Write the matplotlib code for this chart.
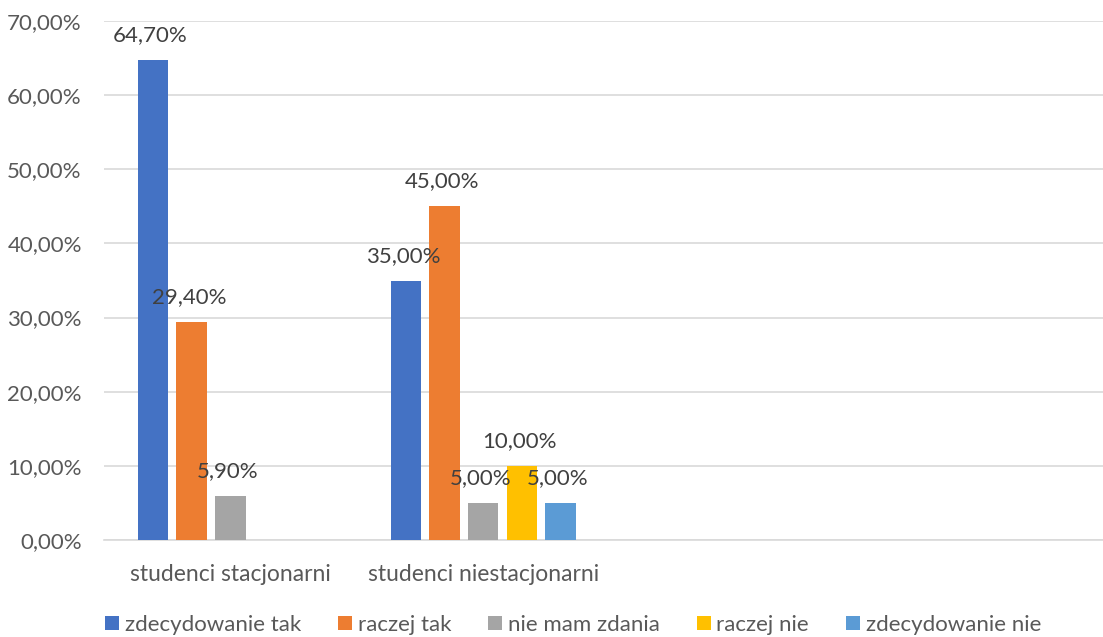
import matplotlib
matplotlib.use("Agg")
from matplotlib import pyplot as plt
import numpy as np

plt.rcParams['font.family'] = ['Lato', 'DejaVu Sans']

categories = ["studenci stacjonarni", "studenci niestacjonarni", "", ""]
series = ["zdecydowanie tak", "raczej tak", "nie mam zdania", "raczej nie", "zdecydowanie nie"]
values = [
    [64.7, 35.0, 0, 0],
    [29.4, 45.0, 0, 0],
    [5.9, 5.0, 0, 0],
    [0, 10.0, 0, 0],
    [0, 5.0, 0, 0],
]
colors = ["#4472C4", "#ED7D31", "#A5A5A5", "#FFC000", "#5B9BD5"]
yticks = [0, 10, 20, 30, 40, 50, 60, 70]

txt = "#595959"
fig = plt.figure(figsize=(11.03, 6.37), dpi=100)
ax = fig.add_axes([0.0943, 0.1523, 0.9166, 0.8147])

x = np.arange(len(categories))
step = 0.153
width = 0.121
for i, (name, vals) in enumerate(zip(series, values)):
    pos = x + (i - 2) * step
    bars = ax.bar(pos, vals, width, color=colors[i], label=name, zorder=3)
    for b, v in zip(bars, vals):
        if v > 0:
            ax.text(b.get_x() + b.get_width() / 2 - 0.01, v + 2.0,
                    ("%.2f%%" % v).replace(".", ","),
                    ha="center", va="bottom", fontsize=16, color="#404040", zorder=4)

ax.set_xlim(-0.5, 3.5)
ax.set_ylim(0, 70)
ax.set_yticks(yticks)
ax.set_yticklabels([("%.2f%%" % t).replace(".", ",") for t in yticks], fontsize=16, color=txt)
ax.set_xticks(x)
ax.set_xticklabels(categories, fontsize=16.5, color=txt)
ax.tick_params(axis="both", length=0)
ax.tick_params(axis="x", pad=17)
ax.tick_params(axis="y", pad=16)
ax.grid(axis="y", color="#d9d9d9", linewidth=1.2, zorder=0)
for s in ["top", "right", "left"]:
    ax.spines[s].set_visible(False)
ax.spines["bottom"].set_color("#d9d9d9")
ax.spines["bottom"].set_linewidth(1.2)

fig.legend(loc="center", bbox_to_anchor=(0.5195, 0.019), ncol=5, frameon=False,
           fontsize=16, handlelength=0.63, handleheight=0.63, handletextpad=0.25,
           columnspacing=1.67, labelcolor=txt)

fig.savefig("out.png", dpi=100)
